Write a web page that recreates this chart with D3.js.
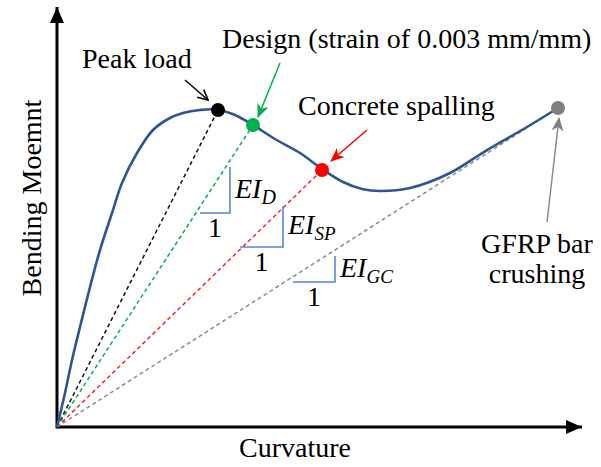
<!DOCTYPE html>
<html lang="en">
<head>
<meta charset="UTF-8">
<title>Moment-curvature stiffness</title>
<script src="https://d3js.org/d3.v7.min.js"></script>
<style>
    body { margin: 0; background: #fff; }
</style>
</head>
<body>
<div id="chart"></div>
<script>
    // moment-curvature curve (normalised units, 0..100)
    var curvature = [0, 1.52, 2.86, 4.38, 6.29, 8.19, 10.48, 12.38, 15.24, 18.29, 21.52, 24.0, 27.24, 30.29, 33.9, 37.33, 41.52, 46.29, 50.48, 54.48, 58.1, 61.52, 67.24, 74.86, 81.9, 89.52, 95.43];
    var moment    = [0, 8.1, 15.95, 23.81, 33.33, 42.14, 50.95, 58.1, 65.24, 70.71, 73.57, 74.76, 75.48, 75.6, 74.29, 71.9, 68.57, 65.24, 61.43, 58.33, 56.67, 56.19, 56.9, 60.48, 65.95, 71.43, 75.95];

    // key points on the curve
    var pointNames  = ["Peak load", "Design", "Concrete spalling", "GFRP bar crushing"];
    var pointX      = [30.67, 37.33, 50.48, 95.43];
    var pointY      = [75.48, 71.9, 61.19, 75.95];
    var pointColors = ["#000000", "#00b050", "#ff0000", "#808080"];
    var dashColors  = ["#111111", "#00b050", "#ff2020", "#8c8c8c"];

    // secant stiffness slope triangles
    var stiffSub  = ["D", "SP", "GC"];
    var triX0     = [27.24, 34.86, 44.95];
    var triX1     = [32.95, 43.05, 52.95];
    var triTop    = [61.9, 52.62, 40.71];
    var triBottom = [50.95, 42.86, 34.52];

    var width = 601, height = 467;
    var serif = "'Liberation Serif', 'Times New Roman', Times, 'DejaVu Serif', serif";

    var svg = d3.select("#chart").append("svg")
        .attr("width", width)
        .attr("height", height)
        .style("font-family", serif);

    var x = d3.scaleLinear().domain([0, 100]).range([57, 582]);
    var y = d3.scaleLinear().domain([0, 100]).range([427, 7]);

    var defs = svg.append("defs");
    defs.append("marker").attr("id", "axisHead")
        .attr("markerUnits", "userSpaceOnUse")
        .attr("viewBox", "0 0 16 14").attr("refX", 16).attr("refY", 7)
        .attr("markerWidth", 16).attr("markerHeight", 14).attr("orient", "auto")
        .append("path").attr("d", "M0,0 L16,7 L0,14 Z").attr("fill", "#000");

    defs.append("marker").attr("id", "openHead")
        .attr("markerUnits", "userSpaceOnUse")
        .attr("viewBox", "0 0 12 12").attr("refX", 11).attr("refY", 6)
        .attr("markerWidth", 12).attr("markerHeight", 12).attr("orient", "auto")
        .append("path").attr("d", "M1,1 L11,6 L1,11").attr("fill", "none")
        .attr("stroke", "#000").attr("stroke-width", 1.6);

    pointColors.forEach(function (c, i) {
        defs.append("marker").attr("id", "head" + i)
            .attr("markerUnits", "userSpaceOnUse")
            .attr("viewBox", "0 0 14 12").attr("refX", 13).attr("refY", 6)
            .attr("markerWidth", 14).attr("markerHeight", 12).attr("orient", "auto")
            .append("path").attr("d", "M0,0 L14,6 L0,12 L4,6 Z").attr("fill", c);
    });

    // axes with arrows
    svg.append("line")
        .attr("x1", x(0)).attr("y1", y(0)).attr("x2", x(100)).attr("y2", y(0))
        .attr("stroke", "#000").attr("stroke-width", 3)
        .attr("marker-end", "url(#axisHead)");
    svg.append("line")
        .attr("x1", x(0)).attr("y1", y(0) + 1.5).attr("x2", x(0)).attr("y2", y(100))
        .attr("stroke", "#000").attr("stroke-width", 3)
        .attr("marker-end", "url(#axisHead)");

    // dashed secant lines from the origin
    svg.selectAll(".secant")
        .data(pointX)
        .enter().append("line")
        .attr("class", "secant")
        .attr("x1", x(0)).attr("y1", y(0))
        .attr("x2", function (d) { return x(d); })
        .attr("y2", function (d, i) { return y(pointY[i]); })
        .attr("stroke", function (d, i) { return dashColors[i]; })
        .attr("stroke-width", 1.5)
        .attr("stroke-dasharray", "4,3");

    // main curve
    var line = d3.line()
        .x(function (d) { return x(d[0]); })
        .y(function (d) { return y(d[1]); })
        .curve(d3.curveCatmullRom.alpha(0.5));

    svg.append("path")
        .datum(d3.zip(curvature, moment))
        .attr("d", line)
        .attr("fill", "none")
        .attr("stroke", "#2f5597")
        .attr("stroke-width", 2.6);

    // slope triangles
    var triColor = "#5a84d4";
    stiffSub.forEach(function (s, i) {
        var px0 = x(triX0[i]), px1 = x(triX1[i]), pt = y(triTop[i]), pb = y(triBottom[i]);
        svg.append("path")
            .attr("d", "M" + px0 + "," + pb + " L" + px1 + "," + pb + " L" + px1 + "," + pt)
            .attr("fill", "none").attr("stroke", triColor).attr("stroke-width", 1.6);

        var t = svg.append("text")
            .attr("x", px1 + 5).attr("y", (pt + pb) / 2 + 8)
            .attr("font-size", 28).attr("font-style", "italic");
        t.append("tspan").text("EI");
        t.append("tspan").attr("dy", 6).attr("font-size", s === "D" ? 20 : 19).text(s);

        svg.append("text")
            .attr("x", (px0 + px1) / 2).attr("y", pb + 24)
            .attr("text-anchor", "middle").attr("font-size", 28).text("1");
    });

    // annotation arrows (offsets from each point, in px)
    var arrowStart = [[-33, -30], [27, -62], [45, -40], [-11, 114]];
    var arrowTip   = [[-10, -10], [5, -8], [9, -9], [1, 10]];
    pointX.forEach(function (d, i) {
        var cx = x(d), cy = y(pointY[i]);
        svg.append("line")
            .attr("x1", cx + arrowStart[i][0]).attr("y1", cy + arrowStart[i][1])
            .attr("x2", cx + arrowTip[i][0]).attr("y2", cy + arrowTip[i][1])
            .attr("stroke", pointColors[i] === "#808080" ? "#8c8c8c" : pointColors[i])
            .attr("stroke-width", 1.5)
            .attr("marker-end", i === 0 ? "url(#openHead)" : "url(#head" + i + ")");
    });

    // key points
    svg.selectAll(".pt")
        .data(pointX)
        .enter().append("circle")
        .attr("class", "pt")
        .attr("cx", function (d) { return x(d); })
        .attr("cy", function (d, i) { return y(pointY[i]); })
        .attr("r", 7)
        .attr("fill", function (d, i) { return pointColors[i]; });

    // labels
    svg.append("text").attr("x", 82).attr("y", 68).attr("font-size", 28).text("Peak load");
    svg.append("text").attr("x", 222).attr("y", 48).attr("font-size", 28).text("Design (strain of 0.003 mm/mm)");
    svg.append("text").attr("x", 298).attr("y", 115).attr("font-size", 28).text("Concrete spalling");
    svg.append("text").attr("x", 537).attr("y", 253).attr("font-size", 28)
        .attr("text-anchor", "middle").text("GFRP bar");
    svg.append("text").attr("x", 537).attr("y", 283).attr("font-size", 28)
        .attr("text-anchor", "middle").text("crushing");

    // axis titles
    svg.append("text").attr("x", 295).attr("y", 457).attr("font-size", 28)
        .attr("text-anchor", "middle").text("Curvature");
    svg.append("text")
        .attr("transform", "translate(41,198) rotate(-90)")
        .attr("font-size", 28).attr("text-anchor", "middle").text("Bending Moemnt");
</script>
</body>
</html>
